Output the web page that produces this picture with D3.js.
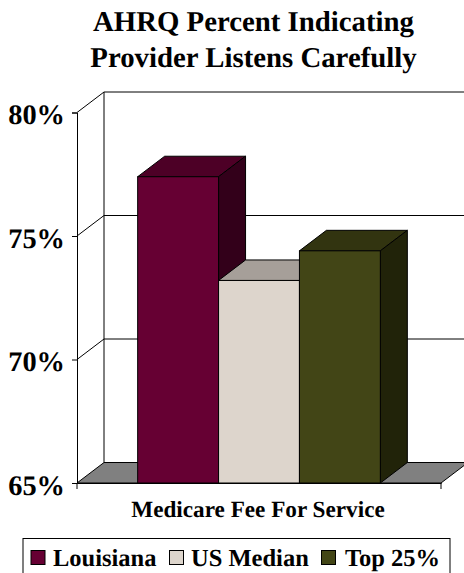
<!DOCTYPE html>
<html>
<head>
<meta charset="utf-8">
<script src="https://cdn.jsdelivr.net/npm/d3@7"></script>
<style>
  html, body { margin: 0; padding: 0; background: #fff; overflow: hidden; }
  text { font-family: "Liberation Serif", serif; font-weight: bold; fill: #000; text-rendering: geometricPrecision; }
</style>
</head>
<body>
<div id="chart"></div>
<script>
var titleLines = ["AHRQ Percent Indicating", "Provider Listens Carefully"];
var categories = ["Medicare Fee For Service"];
var seriesNames = ["Louisiana", "US Median", "Top 25%"];
var seriesValues = [77.4, 73.2, 74.4];
var yTicks = [65, 70, 75, 80];
var seriesFront = ["#660033", "#ddd5cc", "#424516"];
var seriesTop = ["#4d0026", "#a69f99", "#323410"];
var seriesSide = ["#33001a", "#6f6a66", "#212309"];

var width = 464, height = 573;
var depthX = 27, depthY = -20.5;

var svg = d3.select("#chart").append("svg")
  .attr("width", width)
  .attr("height", height);

var y = d3.scaleLinear().domain([65, 80]).range([483, 112.5]);
var x0 = d3.scaleBand().domain(categories).range([77, 441]);
var x1 = d3.scaleBand().domain(seriesNames).range([x0.range()[0], x0.range()[1]])
  .paddingInner(0).paddingOuter(0.75).align(0.5);

// title
svg.selectAll(".title").data(titleLines).enter().append("text")
  .attr("class", "title")
  .attr("x", 253.5)
  .attr("y", function(d, i) { return 31 + i * 36; })
  .attr("text-anchor", "middle")
  .style("font-size", "28.8px")
  .text(function(d) { return d; });

// floor
var floorY = y(65);
svg.append("path")
  .attr("d", "M" + x0.range()[0] + "," + floorY +
    "L" + (x0.range()[0] + depthX) + "," + (floorY + depthY) +
    "L" + (x0.range()[1] + depthX) + "," + (floorY + depthY) +
    "L" + x0.range()[1] + "," + floorY + "Z")
  .attr("fill", "#808080")
  .attr("stroke", "#000")
  .attr("stroke-width", 1);

// side wall + back wall lines
svg.append("line")
  .attr("x1", x0.range()[0] + depthX).attr("x2", x0.range()[0] + depthX)
  .attr("y1", y(80) + depthY).attr("y2", floorY + depthY)
  .attr("stroke", "#000");

svg.selectAll(".grid").data(yTicks.slice(1)).enter().append("polyline")
  .attr("class", "grid")
  .attr("fill", "none")
  .attr("stroke", "#000")
  .attr("points", function(d) {
    return [x0.range()[0], y(d), x0.range()[0] + depthX, y(d) + depthY, width, y(d) + depthY].join(",");
  });

// y axis
var yAxis = svg.append("g")
  .attr("transform", "translate(" + x0.range()[0] + ",0)")
  .call(d3.axisLeft(y).tickValues(yTicks).tickSize(5).tickPadding(7)
    .tickFormat(function(d) { return d + "%"; }));
yAxis.selectAll("text").style("font-size", "28.4px").attr("dy", "0.39em").attr("font-family", null);
yAxis.selectAll("line,path").attr("stroke", "#000");

// x axis
var xAxis = svg.append("g")
  .attr("transform", "translate(0," + floorY + ")")
  .call(d3.axisBottom(x0).tickSize(0).tickPadding(18));
xAxis.select(".domain").attr("stroke", "#000");
xAxis.selectAll("text")
  .attr("x", -1)
  .style("font-size", "23.2px");
xAxis.selectAll(".edge").data(x0.range()).enter().append("line")
  .attr("class", "edge")
  .attr("x1", function(d) { return d; }).attr("x2", function(d) { return d; })
  .attr("y1", 0).attr("y2", 6)
  .attr("stroke", "#000");

// bars
var bars = svg.selectAll(".bar").data(seriesValues).enter().append("g")
  .attr("class", "bar");

bars.append("path")
  .attr("fill", function(d, i) { return seriesTop[i]; })
  .attr("stroke", "#000")
  .attr("stroke-linejoin", "round")
  .attr("d", function(d, i) {
    var l = x1(seriesNames[i]), r = l + x1.bandwidth(), t = y(d);
    return "M" + l + "," + t + "L" + (l + depthX) + "," + (t + depthY) +
      "L" + (r + depthX) + "," + (t + depthY) + "L" + r + "," + t + "Z";
  });

bars.append("path")
  .attr("fill", function(d, i) { return seriesSide[i]; })
  .attr("stroke", "#000")
  .attr("stroke-linejoin", "round")
  .attr("d", function(d, i) {
    var r = x1(seriesNames[i]) + x1.bandwidth(), t = y(d);
    return "M" + r + "," + t + "L" + (r + depthX) + "," + (t + depthY) +
      "L" + (r + depthX) + "," + (floorY + depthY) + "L" + r + "," + floorY + "Z";
  });

bars.append("rect")
  .attr("x", function(d, i) { return x1(seriesNames[i]); })
  .attr("y", function(d) { return y(d); })
  .attr("width", x1.bandwidth())
  .attr("height", function(d) { return floorY - y(d); })
  .attr("fill", function(d, i) { return seriesFront[i]; })
  .attr("stroke", "#000");

// legend
var legendSwatchX = [31, 169.5, 321.5];
var legendTextX = [53, 191, 345];
var legend = svg.append("g");
legend.append("rect")
  .attr("x", 23).attr("y", 538.5)
  .attr("width", 427).attr("height", 40)
  .attr("fill", "#fff")
  .attr("stroke", "#000");
seriesNames.forEach(function(name, i) {
  legend.append("rect")
    .attr("x", legendSwatchX[i]).attr("y", 550.5)
    .attr("width", 14).attr("height", 14)
    .attr("fill", seriesFront[i])
    .attr("stroke", "#000");
  legend.append("text")
    .attr("x", legendTextX[i]).attr("y", 566)
    .style("font-size", "24.5px")
    .text(name);
});
</script>
</body>
</html>
